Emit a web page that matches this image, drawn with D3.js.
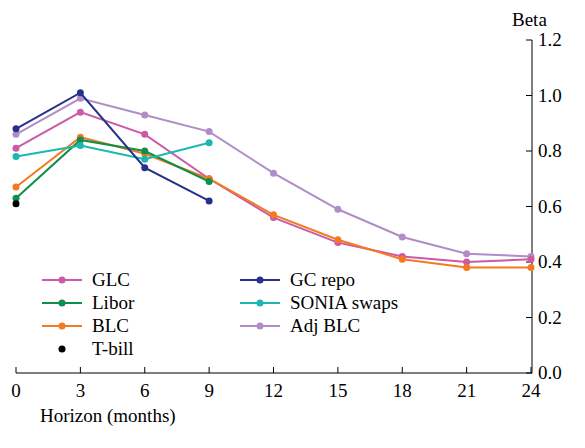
<!DOCTYPE html>
<html><head><meta charset="utf-8">
<script src="https://cdn.jsdelivr.net/npm/d3@7"></script>
<style>body{margin:0;background:#fff}</style>
</head><body><svg id="c" width="585" height="448" font-family="'Liberation Serif','Times New Roman','DejaVu Serif',serif"></svg>
<script>
var horizons = [0,3,6,9,12,15,18,21,24];
var glc    = [0.81,0.94,0.86,0.70,0.56,0.47,0.42,0.40,0.41];
var gcRepo = [0.88,1.01,0.74,0.62];
var libor  = [0.63,0.84,0.80,0.69];
var sonia  = [0.78,0.82,0.77,0.83];
var blc    = [0.67,0.85,0.79,0.70,0.57,0.48,0.41,0.38,0.38];
var adjBlc = [0.86,0.99,0.93,0.87,0.72,0.59,0.49,0.43,0.42];
var tbill  = [0.61];
var yTicks = [0,0.2,0.4,0.6,0.8,1.0,1.2];

var series = [
  {name:'GLC', v:glc, c:'#cc5aa6'},
  {name:'GC repo', v:gcRepo, c:'#27308a'},
  {name:'Libor', v:libor, c:'#0f8f4a'},
  {name:'SONIA swaps', v:sonia, c:'#1cb8b0'},
  {name:'BLC', v:blc, c:'#f47a20'},
  {name:'Adj BLC', v:adjBlc, c:'#b08dc6'},
  {name:'T-bill', v:tbill, c:'#000000'}
];
var svg = d3.select('#c');
var x = d3.scaleLinear().domain([0,24]).range([16,531]);
var y = d3.scaleLinear().domain([0,1.2]).range([373,40]);

svg.append('line').attr('x1',532).attr('x2',532).attr('y1',40).attr('y2',373).attr('stroke','#000');
svg.append('line').attr('x1',16).attr('x2',532).attr('y1',373).attr('y2',373).attr('stroke','#000');
yTicks.forEach(function(t){
  svg.append('line').attr('x1',526).attr('x2',532).attr('y1',y(t)).attr('y2',y(t)).attr('stroke','#000');
  svg.append('text').attr('x',538).attr('y',y(t)+6).attr('font-size',19).text(t.toFixed(1));
});
horizons.forEach(function(h){
  svg.append('line').attr('x1',x(h)).attr('x2',x(h)).attr('y1',367).attr('y2',373).attr('stroke','#000');
  svg.append('text').attr('x',x(h)).attr('y',397).attr('font-size',19).attr('text-anchor','middle').text(h);
});
svg.append('text').attr('x',40).attr('y',422).attr('font-size',19).text('Horizon (months)');
svg.append('text').attr('x',512).attr('y',26).attr('font-size',19).text('Beta');

var line = d3.line().x(function(d,i){return x(horizons[i]);}).y(function(d){return y(d);});
var order = [5,0,4,2,3,1,6];
order.forEach(function(k){
  var s = series[k];
  svg.append('path').attr('d',line(s.v)).attr('fill','none').attr('stroke',s.c).attr('stroke-width',2);
  s.v.forEach(function(d,i){
    svg.append('circle').attr('cx',x(horizons[i])).attr('cy',y(d)).attr('r',3.5).attr('fill',s.c);
  });
});

var legPos = [[42,280],[240,280],[42,303],[240,303],[42,326],[240,326],[42,349]];
series.forEach(function(s,i){
  var p = legPos[i];
  if (s.name !== 'T-bill') svg.append('line').attr('x1',p[0]).attr('x2',p[0]+40).attr('y1',p[1]).attr('y2',p[1]).attr('stroke',s.c).attr('stroke-width',2);
  svg.append('circle').attr('cx',p[0]+20).attr('cy',p[1]).attr('r',3.5).attr('fill',s.c);
  svg.append('text').attr('x',p[0]+50).attr('y',p[1]+6).attr('font-size',19).text(s.name);
});
</script></body></html>
